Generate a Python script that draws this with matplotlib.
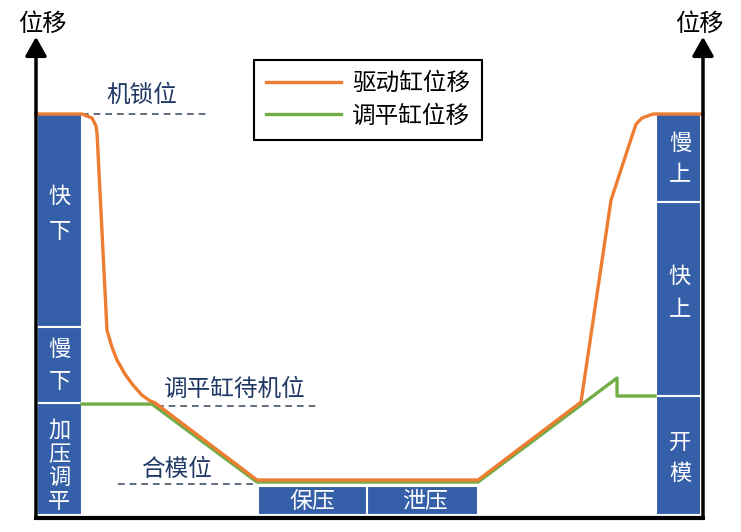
import matplotlib.pyplot as plt
from matplotlib.patches import Rectangle

plt.rcParams['font.family'] = ['Noto Sans CJK SC', 'DejaVu Sans']

# schematic units: time 0..100 along the bottom axis, displacement 0..100 (机锁位 = 100)
drive_t = [0, 6.9, 8.4, 9.0, 9.15, 10.64, 11.39, 12.14, 13.34, 14.54, 15.89, 17.09, 17.84,
           33.13, 66.27, 81.71, 86.21, 89.51, 89.96, 90.85, 92.5, 100]
drive_d = [100, 100, 99.0, 97.0, 95.3, 46.5, 42.3, 39.1, 35.6, 32.9, 30.4, 29.0, 28.5,
           9.4, 9.4, 28.7, 78.7, 95.3, 97.5, 99.0, 100, 100]

level_t = [6.9, 17.39, 33.13, 66.27, 87.11, 87.11, 92.8]
level_d = [28.2, 28.2, 8.9, 8.9, 34.65, 30.2, 30.2]

series_names = ['驱动缸位移', '调平缸位移']

# phase blocks: left column (displacement bounds), right column, bottom row (time bounds)
left_phases = ['快下', '慢下', '加压调平']
left_bounds = [100, 47.3, 28.5, 0.8]
right_phases = ['慢上', '快上', '开模']
right_bounds = [100, 78.2, 30.2, 0.8]
bottom_phases = ['保压', '泄压']
bottom_bounds = [33.3, 49.6, 66.3]

# reference positions (name, value, time span)
ref_names = ['机锁位', '调平缸待机位', '合模位']
ref_levels = [100, 27.7, 8.4]
ref_spans = [(6.9, 26.1), (18.1, 42.6), (12.3, 32.5)]

orange = '#ED7D31'
green = '#70AD47'
blue = '#355FA9'
navy = '#1F3864'

fig = plt.figure(figsize=(7.41, 5.32), dpi=100)
ax = fig.add_axes([0, 0, 1, 1])
ax.set_xlim(-36 / 6.67, (741 - 36) / 6.67)
ax.set_ylim(-14 / 4.04, 518 / 4.04)
ax.axis('off')

# phase blocks
for i, name in enumerate(left_phases):
    top, bot = left_bounds[i], left_bounds[i + 1]
    ax.add_patch(Rectangle((0.15, bot), 6.75, top - bot, facecolor=blue,
                           edgecolor='white', lw=1.5, zorder=1))
for i, name in enumerate(right_phases):
    top, bot = right_bounds[i], right_bounds[i + 1]
    ax.add_patch(Rectangle((92.9, bot), 6.8, top - bot, facecolor=blue,
                           edgecolor='white', lw=1.5, zorder=1))
for i, name in enumerate(bottom_phases):
    l, r = bottom_bounds[i], bottom_bounds[i + 1]
    ax.add_patch(Rectangle((l, 0.8), r - l, 7.1, facecolor=blue,
                           edgecolor='white', lw=1.5, zorder=1))

# vertical block labels, one character per row
def stack(chars, t, ds):
    for c, d in zip(chars, ds):
        ax.text(t, d, c, color='white', fontsize=16, ha='center', va='center', zorder=3)

stack('快下', 3.52, [79.5, 71.0])
stack('慢下', 3.52, [41.8, 33.7])
stack('加压调平', 3.52, [21.8, 15.8, 10.0, 4.0])
stack('慢上', 96.55, [92.8, 84.9])
stack('快上', 96.55, [59.7, 51.5])
stack('开模', 96.55, [18.6, 11.1])
ax.text(41.5, 4.2, '保压', color='white', fontsize=16.5, ha='center', va='center', zorder=3)
ax.text(58.3, 4.2, '泄压', color='white', fontsize=16.5, ha='center', va='center', zorder=3)

# dashed reference lines and their names
label_pos = [(15.9, 104.5), (29.8, 31.9), (21.0, 11.9)]
for name, lev, span, pos in zip(ref_names, ref_levels, ref_spans, label_pos):
    ax.plot(span, [lev, lev], color='#44546A', lw=1.2, ls=(0, (4, 3)), zorder=2)
    ax.text(pos[0], pos[1], name, color=navy, fontsize=17, ha='center', va='center')

# curves
ax.plot(level_t, level_d, color=green, lw=2.4, zorder=4, label=series_names[1])
ax.plot(drive_t, drive_d, color=orange, lw=2.4, zorder=5, label=series_names[0])

# axes with arrows
ax.plot([-0.3, 100.3], [0, 0], color='black', lw=3, zorder=6, solid_capstyle='butt')
for t in [0, 100]:
    ax.annotate('', xy=(t, 119.1), xytext=(t, 0),
                arrowprops=dict(arrowstyle='-|>,head_length=1.15,head_width=0.65',
                                mutation_scale=10, lw=2.5, color='black',
                                shrinkA=0, shrinkB=0), zorder=6)
ax.text(0.9, 122.3, '位移', fontsize=17.5, ha='center', va='center')
ax.text(99.4, 122.3, '位移', fontsize=17.5, ha='center', va='center')

handles, labels = ax.get_legend_handles_labels()
leg = ax.legend(handles[::-1], labels[::-1], loc='upper left',
                bbox_to_anchor=(254 / 741, 1 - 60 / 532), bbox_transform=fig.transFigure,
                borderaxespad=0, fancybox=False, edgecolor='black', fontsize=17,
                handlelength=3.2, handletextpad=0.45, labelspacing=0.42,
                borderpad=0.5, framealpha=1)
leg.get_frame().set_linewidth(1.5)

fig.savefig('out.png', dpi=100)
